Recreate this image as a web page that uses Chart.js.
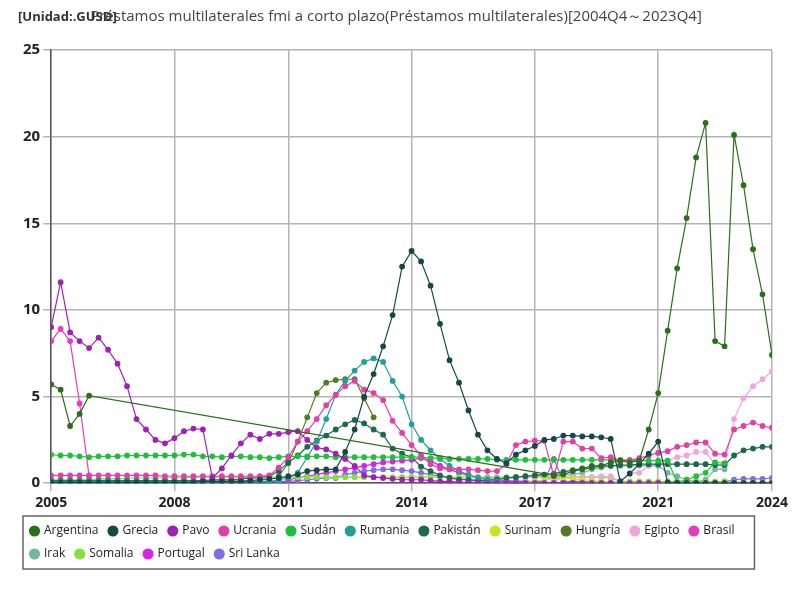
<!DOCTYPE html>
<html>
<head>
<meta charset="utf-8">
<script src="https://cdn.jsdelivr.net/npm/chart.js@4/dist/chart.umd.min.js"></script>
<style>
  body { margin: 0; background: #fff; }
  #wrap { position: relative; width: 800px; height: 600px; }
  #unit { position: absolute; left: 18px; top: 7px; font: bold 13px "Open Sans", sans-serif; color: #333; }
</style>
</head>
<body>
<div id="wrap">
  <canvas id="debtChart" width="800" height="600"></canvas>
  <div id="unit">[Unidad:.GUSD]</div>
</div>
<script>
// 2004Q4 .. 2023Q4, 77 quarters
const N = 77;
const tickIdx = [0, 13, 25, 38, 51, 64, 76];
const tickText = ["2005", "2008", "2011", "2014", "2017", "2021", "2024"];
const nulls = n => Array(n).fill(null);

const argentina = [5.7, 5.4, 3.3, 4.0, 5.05, ...nulls(48),
  0.45, 0.5, 0.7, 0.8, 0.9, 1.0, 1.2,
  1.3, 1.2, 1.3, 3.1, 5.2, 8.8, 12.4, 15.3, 18.8, 20.8,
  8.2, 7.9, 20.1, 17.2, 13.5, 10.9, 7.4];
const grecia = [0.05, 0.05, 0.05, 0.05, 0.05, 0.05, 0.05, 0.05, 0.05, 0.05,
  0.05, 0.05, 0.05, 0.05, 0.05, 0.05, 0.1, 0.1, 0.1, 0.1,
  0.1, 0.15, 0.2, 0.25, 0.3, 0.4, 0.5, 0.7, 0.75, 0.8,
  0.8, 1.8, 3.1, 5.0, 6.3, 7.9, 9.7, 12.5, 13.4, 12.8,
  11.4, 9.2, 7.1, 5.8, 4.2, 2.8, 1.9, 1.4, 1.15, 1.65,
  1.9, 2.15, 2.5, 2.55, 2.75, 2.75, 2.7, 2.7, 2.65, 2.55,
  0.1, 0.55, 1.1, 1.7, 2.4, 0.05, 0, 0, 0, 0,
  0, 0, 0, 0, 0, 0, 0];
const pavo = [9.0, 11.6, 8.7, 8.2, 7.8, 8.4, 7.7, 6.9, 5.6, 3.7,
  3.1, 2.5, 2.3, 2.6, 3.0, 3.15, 3.1, 0.3, 0.85, 1.6,
  2.3, 2.8, 2.55, 2.85, 2.85, 2.95, 3.0, 2.5, 2.05, 1.95,
  1.7, 1.4, 1.0, 0.45, 0.35, 0.3, 0.25, 0.2, 0.2, 0.2,
  0.15, 0.1, 0.1, 0.05, 0.05, 0.05, 0, 0, 0, 0,
  0, 0, 0, 0, 0, 0, 0, 0, 0, 0,
  0, 0, 0, 0, 0, 0, 0, 0, 0, 0,
  0, 0, 0, 0, 0, 0, 0];
const ucrania = [0.45, 0.45, 0.45, 0.45, 0.45, 0.45, 0.45, 0.45, 0.45, 0.45,
  0.45, 0.45, 0.4, 0.4, 0.4, 0.4, 0.4, 0.4, 0.4, 0.4,
  0.4, 0.4, 0.4, 0.45, 0.9, 1.5, 2.4, 3.0, 3.7, 4.5,
  5.1, 5.6, 5.9, 5.4, 5.2, 4.8, 3.6, 2.9, 2.2, 1.6,
  1.1, 0.85, 0.8, 0.8, 0.8, 0.75, 0.7, 0.7, 1.1, 2.2,
  2.4, 2.45, 2.45, 0.4, 2.4, 2.4, 2.0, 2.0, 1.45, 1.5,
  1.3, 1.3, 1.45, 1.6, 1.75, 1.85, 2.1, 2.2, 2.35, 2.35,
  1.7, 1.65, 3.1, 3.3, 3.5, 3.3, 3.2];
const sudan = [1.65, 1.6, 1.6, 1.55, 1.5, 1.55, 1.55, 1.55, 1.6, 1.6,
  1.6, 1.6, 1.6, 1.6, 1.65, 1.65, 1.55, 1.55, 1.5, 1.55,
  1.55, 1.5, 1.5, 1.45, 1.5, 1.55, 1.55, 1.55, 1.55, 1.55,
  1.5, 1.5, 1.5, 1.5, 1.5, 1.5, 1.5, 1.5, 1.5, 1.5,
  1.45, 1.45, 1.4, 1.4, 1.4, 1.4, 1.4, 1.35, 1.35, 1.35,
  1.35, 1.35, 1.35, 1.35, 1.35, 1.35, 1.35, 1.35, 1.35, 1.35,
  1.35, 1.35, 1.3, 1.3, 1.3, 1.3, 0.05, 0.2, 0.4, 0.6,
  1.2, 1.15, null, null, null, null, null];
const rumania = [0.1, 0.1, 0.1, 0.1, 0.1, 0.1, 0.1, 0.1, 0.1, 0.1,
  0.1, 0.1, 0.1, 0.1, 0.1, 0.1, 0.1, 0.1, 0.1, 0.1,
  0.1, 0.1, 0.1, 0.1, 0.2, 0.3, 0.6, 1.5, 2.4, 3.7,
  5.1, 5.9, 6.5, 7.0, 7.2, 7.0, 5.9, 5.0, 3.4, 2.5,
  1.9, 1.4, 1.0, 0.7, 0.5, 0.3, 0.2, 0.1, 0, 0,
  0, 0, 0, 0, 0, 0, 0, 0, 0, 0,
  0, 0, 0, 0, 0, 0, 0, 0, 0, 0,
  0, 0, 0, 0, 0, 0, 0];
const pakistan = [0.15, 0.15, 0.15, 0.15, 0.15, 0.15, 0.15, 0.15, 0.15, 0.15,
  0.15, 0.15, 0.15, 0.15, 0.15, 0.15, 0.15, 0.2, 0.2, 0.2,
  0.25, 0.3, 0.3, 0.4, 0.7, 1.2, 1.6, 2.1, 2.45, 2.75,
  3.1, 3.4, 3.65, 3.45, 3.1, 2.8, 2.0, 1.7, 1.5, 0.95,
  0.7, 0.45, 0.3, 0.2, 0.2, 0.15, 0.15, 0.2, 0.3, 0.35,
  0.4, 0.45, 0.5, 0.55, 0.65, 0.75, 0.85, 1.0, 1.0, 1.0,
  1.05, 1.05, 1.1, 1.1, 1.1, 1.1, 1.1, 1.1, 1.1, 1.1,
  1.05, 1.05, 1.6, 1.9, 2.0, 2.1, 2.1];
const surinam = [...nulls(50),
  0.05, 0.1, 0.2, 0.3, 0.3, 0.25, 0.2, 0.15, 0.1, 0.05,
  0.05, 0.05, 0.05, 0.05, 0.05, 0.05, 0.05, 0.05, 0.05, 0.05,
  0.05, 0.05, 0, 0, 0, 0, 0];
const hungria = [...nulls(24), 0.4, 1.15, 2.4, 3.8, 5.2, 5.8,
  5.95, 6.0, 6.0, 4.9, 3.8, ...nulls(42)];
const egipto = [...nulls(48), 0.3, 0.3,
  0.35, 0.35, 0.35, 0.1, 0.35, 0.35, 0.35, 0.35, 0.4, 0.4,
  0.1, 0.6, 0.6, 1.0, 1.1, 1.3, 1.5, 1.6, 1.8, 1.8,
  1.1, 1.0, 3.7, 4.9, 5.6, 6.0, 6.45];
const brasil = [8.2, 8.9, 8.2, 4.6, 0.4, ...nulls(72)];
const irak = [...nulls(44), 0.1, 0.2, 0.3, 0.3, 0.3, 0.35,
  0.4, 0.45, 0.5, 0.2, 0.5, 0.5, 0.6, 0.8, 0.9, 1.0,
  1.0, 1.0, 1.0, 1.0, 1.0, 0.6, 0.4, 0.2, 0.1, 0.2,
  0.8, 0.8, null, null, null, null, null];
const somalia = [0.2, 0.2, 0.2, 0.2, 0.2, 0.25, 0.25, 0.25, 0.3, 0.3,
  0.3, 0.3, 0.3, 0.3, 0.3, 0.35, 0.35, 0.35, 0.35, 0.35,
  0.35, 0.35, 0.35, 0.35, 0.35, 0.35, 0.35, 0.35, 0.35, 0.35,
  0.35, 0.35, 0.35, 0.35, 0.35, 0.35, 0.35, 0.35, 0.35, 0.35,
  0.35, 0.35, 0.35, 0.35, 0.35, 0.35, 0.35, 0.35, 0.35, 0.35,
  0.35, 0.35, 0.35, 0.35, 0.35, 0.35, 0.35, 0.35, 0.35, 0.3,
  0.1, 0.1, 0.1, 0.1, 0.1, 0.1, 0.1, 0.1, 0.1, 0.1,
  0.1, 0.1, 0.05, 0.05, 0.05, 0.05, 0.05];
const portugal = [...nulls(25), 0.2, 0.3, 0.4, 0.5, 0.6,
  0.7, 0.8, 0.9, 1.0, 1.1, 1.2, 1.25, 1.3, 1.35, 1.45,
  1.3, 1.0, 0.8, 0.6, 0.45, 0.35, 0.25, 0.2, 0.15, 0.1,
  0.1, 0.05, ...nulls(25)];
const sriLanka = [0.05, 0.05, 0.05, 0.05, 0.05, 0.05, 0.05, 0.05, 0.05, 0.05,
  0.05, 0.05, 0.05, 0.05, 0.05, 0.05, 0.05, 0.1, 0.1, 0.1,
  0.1, 0.1, 0.1, 0.1, 0.1, 0.1, 0.15, 0.2, 0.25, 0.3,
  0.3, 0.5, 0.6, 0.7, 0.75, 0.8, 0.8, 0.75, 0.7, 0.6,
  0.5, 0.4, 0.3, 0.25, 0.2, 0.15, 0.1, 0.1, 0.1, 0.1,
  0.1, 0.1, 0.1, 1.4, 0.1, 0.1, 0.1, 0.05, 0.05, 0.05,
  0.05, 0.05, 0.05, 0.05, 0.05, 0.05, 0.05, 0.05, 0.05, 0.05,
  0.05, 0.1, 0.2, 0.25, 0.25, 0.25, 0.3];

const series = [
  ["Argentina", argentina, "#2c6e1c"],
  ["Grecia", grecia, "#164848"],
  ["Pavo", pavo, "#a020b8"],
  ["Ucrania", ucrania, "#e43ea8"],
  ["Sudán", sudan, "#1ec03a"],
  ["Rumania", rumania, "#22a096"],
  ["Pakistán", pakistan, "#1a6a4a"],
  ["Surinam", surinam, "#c4e61e"],
  ["Hungría", hungria, "#557a24"],
  ["Egipto", egipto, "#f0a6dc"],
  ["Brasil", brasil, "#e43cc0"],
  ["Irak", irak, "#72b8a0"],
  ["Somalia", somalia, "#84e03e"],
  ["Portugal", portugal, "#d424e4"],
  ["Sri Lanka", sriLanka, "#7e6ee0"]
];

// extra room above the legend and a box around its items
const legendBox = {
  id: "legendBox",
  beforeInit(chart) {
    const fit = chart.legend.fit;
    chart.legend.fit = function () {
      fit.call(this);
      this.height += 26;
    };
  },
  afterDraw(chart) {
    const l = chart.legend, c = chart.ctx;
    const boxes = l.legendHitBoxes;
    if (!boxes || !boxes.length) return;
    const left = Math.min(...boxes.map(b => b.left)) - 8;
    const right = Math.max(...boxes.map(b => b.left + b.width)) + 20;
    const top = Math.min(...boxes.map(b => b.top)) - 9;
    const bottom = Math.max(...boxes.map(b => b.top + b.height)) + 9;
    c.save();
    c.strokeStyle = "#666";
    c.lineWidth = 1.5;
    c.strokeRect(left, top, right - left, bottom - top);
    c.restore();
  }
};

new Chart(document.getElementById("debtChart").getContext("2d"), {
  type: "line",
  data: {
    datasets: series.map(([name, vals, col]) => ({
      label: name,
      data: vals.map((v, i) => ({ x: i, y: v })),
      borderColor: col,
      backgroundColor: col,
      borderWidth: 1.2,
      pointRadius: 2.3,
      pointHoverRadius: 3,
      spanGaps: name === "Argentina",
      tension: 0
    }))
  },
  options: {
    responsive: false,
    animation: false,
    layout: { padding: { left: 20, right: 28, top: 4, bottom: 4 } },
    plugins: {
      title: {
        display: true,
        text: "Préstamos multilaterales fmi a corto plazo(Préstamos multilaterales)[2004Q4～2023Q4]",
        color: "#444",
        font: { family: "Open Sans", size: 15, weight: "normal" },
        padding: { top: 4, bottom: 24 }
      },
      legend: {
        position: "bottom",
        align: "start",
        labels: {
          usePointStyle: true,
          pointStyle: "circle",
          boxWidth: 7,
          boxHeight: 7,
          padding: 11,
          color: "#222",
          font: { family: "Open Sans", size: 12 }
        }
      },
      tooltip: { enabled: false }
    },
    scales: {
      x: {
        type: "linear",
        min: 0,
        max: N - 1,
        afterBuildTicks: axis => { axis.ticks = tickIdx.map(v => ({ value: v })); },
        ticks: {
          autoSkip: false,
          maxRotation: 0,
          color: "#222",
          font: { family: "Open Sans", size: 14, weight: "bold" },
          callback: v => tickText[tickIdx.indexOf(v)]
        },
        grid: { color: "#b4b4b4", lineWidth: 1.5 },
        border: { color: "#555", width: 1.5 }
      },
      y: {
        min: 0,
        max: 25,
        ticks: {
          stepSize: 5,
          color: "#222",
          font: { family: "Open Sans", size: 15, weight: "bold" }
        },
        grid: { color: "#b4b4b4", lineWidth: 1.5 },
        border: { color: "#555", width: 1.5 }
      }
    }
  },
  plugins: [legendBox]
});
</script>
</body>
</html>
